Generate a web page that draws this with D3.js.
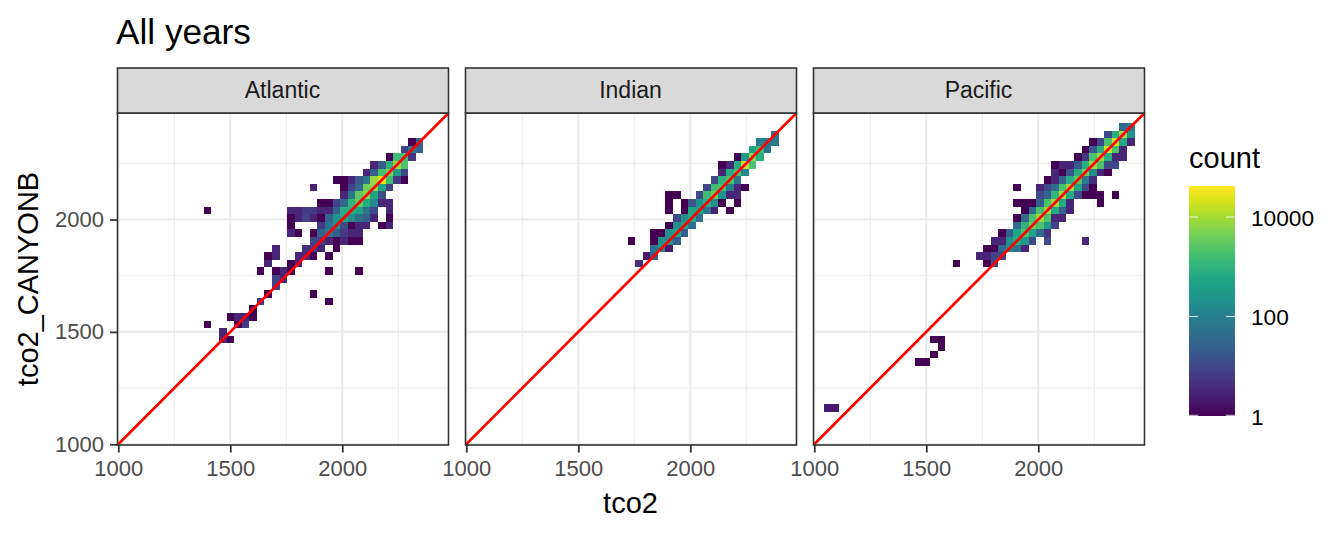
<!DOCTYPE html>
<html><head><meta charset="utf-8">
<script src="https://cdnjs.cloudflare.com/ajax/libs/d3/7.8.5/d3.min.js"></script>
<style>html,body{margin:0;padding:0;background:#fff}svg{display:block}text{font-family:"Liberation Sans",Arial,sans-serif}</style>
</head><body><svg id="c" width="1344" height="537"></svg>
<script>
// Each row: [tco2_CANYONB bin, first tco2 bin, counts per consecutive tco2 bin (0 = empty)]
const atlanticRows = [
 [39,38,[1,30]],[38,37,[8,70,30]],[37,35,[1,1500,1800,5]],[36,33,[3,20,900,9000,2000]],
 [35,32,[3,25,1800,5000,300,8]],[34,28,[1,1,3,20,70,8000,25000,1500,6,1]],
 [33,25,[3,0,0,0,1,8,40,4000,7000,500,8]],[32,29,[3,70,3000,6000,500,12]],
 [31,26,[1,1,8,40,1000,3000,700,150,3,3]],
 [30,11,[1,0,0,0,0,0,0,0,0,0,0,3,3,6,6,3,3,25,800,700,500,60,10,0,3]],
 [29,22,[1,3,8,3,1,30,250,600,200,50,25,3,0,1]],
 [28,22,[1,0,0,0,6,60,200,10,1,3,3,0,1,3]],
 [27,22,[3,1,0,1,25,70,25,6,3,3]],[26,25,[8,7,3,1,3,1,1]],
 [25,20,[3,0,0,0,4,6,3,0,1]],[24,19,[1,3,0,0,3,3,1,0,1]],[23,19,[3,0,0,1,3]],
 [22,18,[1,0,1,3,1,0,0,0,0,1,0,0,0,1]],[21,20,[8,3]],[20,20,[8]],
 [19,19,[1,0,0,0,0,0,1]],[18,18,[6,0,0,0,0,0,0,0,0,1]],[17,17,[1]],
 [16,14,[1,3,3,1]],[15,11,[1,0,0,0,1,6]],[14,13,[3]],[13,13,[3,1]]
];
const indianRows = [
 [40,40,[50]],[39,38,[80,60,70]],[38,37,[500,1500,60]],[37,35,[1,300,6000,800]],
 [36,33,[1,3,700,15000,2000]],[35,33,[3,700,2000,150]],[34,32,[10,1000,2000,70]],
 [33,31,[10,1500,2000,80,3,1]],[32,26,[1,1,0,0,10,1500,4000,250,3,3]],
 [31,26,[1,0,1,15,250,800,200,1,0,1]],[30,26,[1,0,1,500,500,60,3,0,1]],
 [29,27,[10,200,600,50]],[28,26,[1,200,500,50]],[27,24,[1,1,200,500,25]],
 [26,21,[1,0,0,1,200,200,25]],[25,24,[50,200,2]],[24,23,[2,25]],[23,22,[4]]
];
const pacificRows = [
 [41,40,[40,70]],[40,38,[10,800,10000,250]],[39,36,[1,10,2000,20000,600,3]],
 [38,35,[1,20,800,18000,2000,3]],[37,34,[1,6,2000,8000,800,3,3]],
 [36,31,[1,3,3,20,800,9000,2000,10,10]],[35,31,[3,1,15,800,4000,200,3,1]],
 [34,30,[1,3,30,800,2500,70,4]],[33,26,[1,0,0,3,10,50,2000,9000,500,10,1]],
 [32,29,[10,30,1200,10000,600,10,1,1,1,0,1]],[31,26,[1,1,1,25,2000,10000,600,3,0,0,0,1]],
 [30,27,[1,40,2000,9000,600,25,3]],[29,26,[1,35,2000,8000,2000,3,3]],
 [28,26,[40,1000,4000,2000,300,8]],[27,24,[1,25,500,2000,400,40,5]],
 [26,23,[3,3,200,700,300,10,0,10,0,0,0,0,3]],[25,22,[1,1,40,200,50,3]],
 [24,21,[3,3,8,8]],[23,18,[1,0,0,0,1,10]],[13,15,[1,1]],[12,16,[1]],[11,15,[1]],
 [10,13,[1,1]],[4,1,[2,2]]
];
const panelNames = ["Atlantic","Indian","Pacific"];
const panelRows = [atlanticRows,indianRows,pacificRows];
const axisTicks = [1000,1500,2000];
const minorTicks = [1250,1750,2250];
const legendTicks = [1,100,10000];
const binStart = 1010, binWidth = 33.8, axisMin = 1000, axisMaxX = 2472, axisMaxY = 2474, countMax = 42000;

const svg = d3.select("#c");
const panelW = 331, panelH = 332, panelTop = 113, stripTop = 68;
const lefts = [117.5,465.5,813.5];
const x = d3.scaleLinear().domain([axisMin,axisMaxX]).range([0.8,330.5]);
const y = d3.scaleLinear().domain([axisMin,axisMaxY]).range([331.3,0]);
const colorT = d3.scaleLog().domain([1,countMax]).range([0,1]);
const fill = c => d3.interpolateViridis(colorT(c));
const ink = "#333333", grid = "#ebebeb", tickInk = "#4d4d4d";

const defs = svg.append("defs");
panelNames.forEach((name,i)=>{
  defs.append("clipPath").attr("id","clip"+i).append("rect").attr("width",panelW).attr("height",panelH);
  const g = svg.append("g").attr("transform",`translate(${lefts[i]},${panelTop})`);
  g.append("rect").attr("width",panelW).attr("height",panelH).attr("fill","#fff");
  const body = g.append("g").attr("clip-path",`url(#clip${i})`);
  minorTicks.forEach(t=>{
    body.append("line").attr("x1",x(t)).attr("x2",x(t)).attr("y1",0).attr("y2",panelH).attr("stroke",grid).attr("stroke-width",1.05);
    body.append("line").attr("y1",y(t)).attr("y2",y(t)).attr("x1",0).attr("x2",panelW).attr("stroke",grid).attr("stroke-width",1.05);
  });
  axisTicks.forEach(t=>{
    body.append("line").attr("x1",x(t)).attr("x2",x(t)).attr("y1",0).attr("y2",panelH).attr("stroke",grid).attr("stroke-width",2.1);
    body.append("line").attr("y1",y(t)).attr("y2",y(t)).attr("x1",0).attr("x2",panelW).attr("stroke",grid).attr("stroke-width",2.1);
  });
  const cells = panelRows[i].flatMap(([r,s,counts])=>counts.map((c,j)=>({bx:s+j,by:r,c}))).filter(d=>d.c>0);
  body.selectAll("rect.cell").data(cells).join("rect").attr("class","cell")
    .attr("x",d=>x(binStart+d.bx*binWidth))
    .attr("y",d=>y(binStart+(d.by+1)*binWidth))
    .attr("width",d=>x(binStart+(d.bx+1)*binWidth)-x(binStart+d.bx*binWidth))
    .attr("height",d=>y(binStart+d.by*binWidth)-y(binStart+(d.by+1)*binWidth))
    .attr("fill",d=>fill(d.c)).attr("shape-rendering","crispEdges");
  body.append("line").attr("x1",0).attr("y1",panelH).attr("x2",panelW).attr("y2",0)
    .attr("stroke","#ff0000").attr("stroke-width",2.7);
  g.append("rect").attr("width",panelW).attr("height",panelH).attr("fill","none").attr("stroke",ink).attr("stroke-width",1.6);
  // strip
  const sh = panelTop-stripTop;
  const st = svg.append("g").attr("transform",`translate(${lefts[i]},${stripTop})`);
  st.append("rect").attr("width",panelW).attr("height",sh).attr("fill","#d9d9d9").attr("stroke",ink).attr("stroke-width",1.6);
  st.append("text").attr("x",panelW/2-0.5).attr("y",sh/2+7).attr("text-anchor","middle").attr("font-size",23).attr("fill","#1a1a1a").text(name);
  // x axis
  const ax = svg.append("g").attr("transform",`translate(${lefts[i]},${panelTop+panelH})`)
    .call(d3.axisBottom(x).tickValues(axisTicks).tickSize(7.5).tickPadding(8).tickFormat(d3.format("d")));
  ax.select(".domain").remove();
  ax.selectAll("line").attr("stroke",ink).attr("stroke-width",1.8);
  ax.selectAll("text").attr("font-size",22).attr("fill",tickInk).attr("font-family","Liberation Sans");
});
const ay = svg.append("g").attr("transform",`translate(${lefts[0]},${panelTop})`)
  .call(d3.axisLeft(y).tickValues(axisTicks).tickSize(7.5).tickPadding(6).tickFormat(d3.format("d")));
ay.select(".domain").remove();
ay.selectAll("line").attr("stroke",ink).attr("stroke-width",1.8);
ay.selectAll("text").attr("font-size",22).attr("fill",tickInk).attr("font-family","Liberation Sans");

svg.append("text").attr("x",116).attr("y",44).attr("font-size",35.2).attr("fill","#000").text("All years");
svg.append("text").attr("x",630.5).attr("y",513).attr("text-anchor","middle").attr("font-size",29).attr("fill","#000").text("tco2");
svg.append("text").attr("transform","translate(38,279) rotate(-90)").attr("text-anchor","middle").attr("font-size",29).attr("fill","#000").text("tco2_CANYONB");

// legend
const legX = 1189, legW = 46, legTop = 186, legBottom = 416;
const leg = d3.scaleLog().domain([1,countMax]).range([legBottom,legTop]);
const gr = defs.append("linearGradient").attr("id","vir").attr("x1",0).attr("x2",0).attr("y1",1).attr("y2",0);
d3.range(0,1.001,0.05).forEach(t=>gr.append("stop").attr("offset",t).attr("stop-color",d3.interpolateViridis(t)));
svg.append("rect").attr("x",legX).attr("y",legTop).attr("width",legW).attr("height",legBottom-legTop).attr("fill","url(#vir)");
legendTicks.forEach(t=>{
  const yy = Math.min(leg(t),legBottom-0.7);
  [[legX,legX+9.2],[legX+legW-9.2,legX+legW]].forEach(([a,b])=>
    svg.append("line").attr("x1",a).attr("x2",b).attr("y1",yy).attr("y2",yy).attr("stroke","#fff").attr("stroke-opacity",0.75).attr("stroke-width",1.1));
  svg.append("text").attr("x",1251).attr("y",leg(t)+8.5).attr("font-size",22.7).attr("fill","#000").text(d3.format("d")(t));
});
svg.append("text").attr("x",1189).attr("y",168).attr("font-size",29).attr("fill","#000").text("count");
</script></body></html>
